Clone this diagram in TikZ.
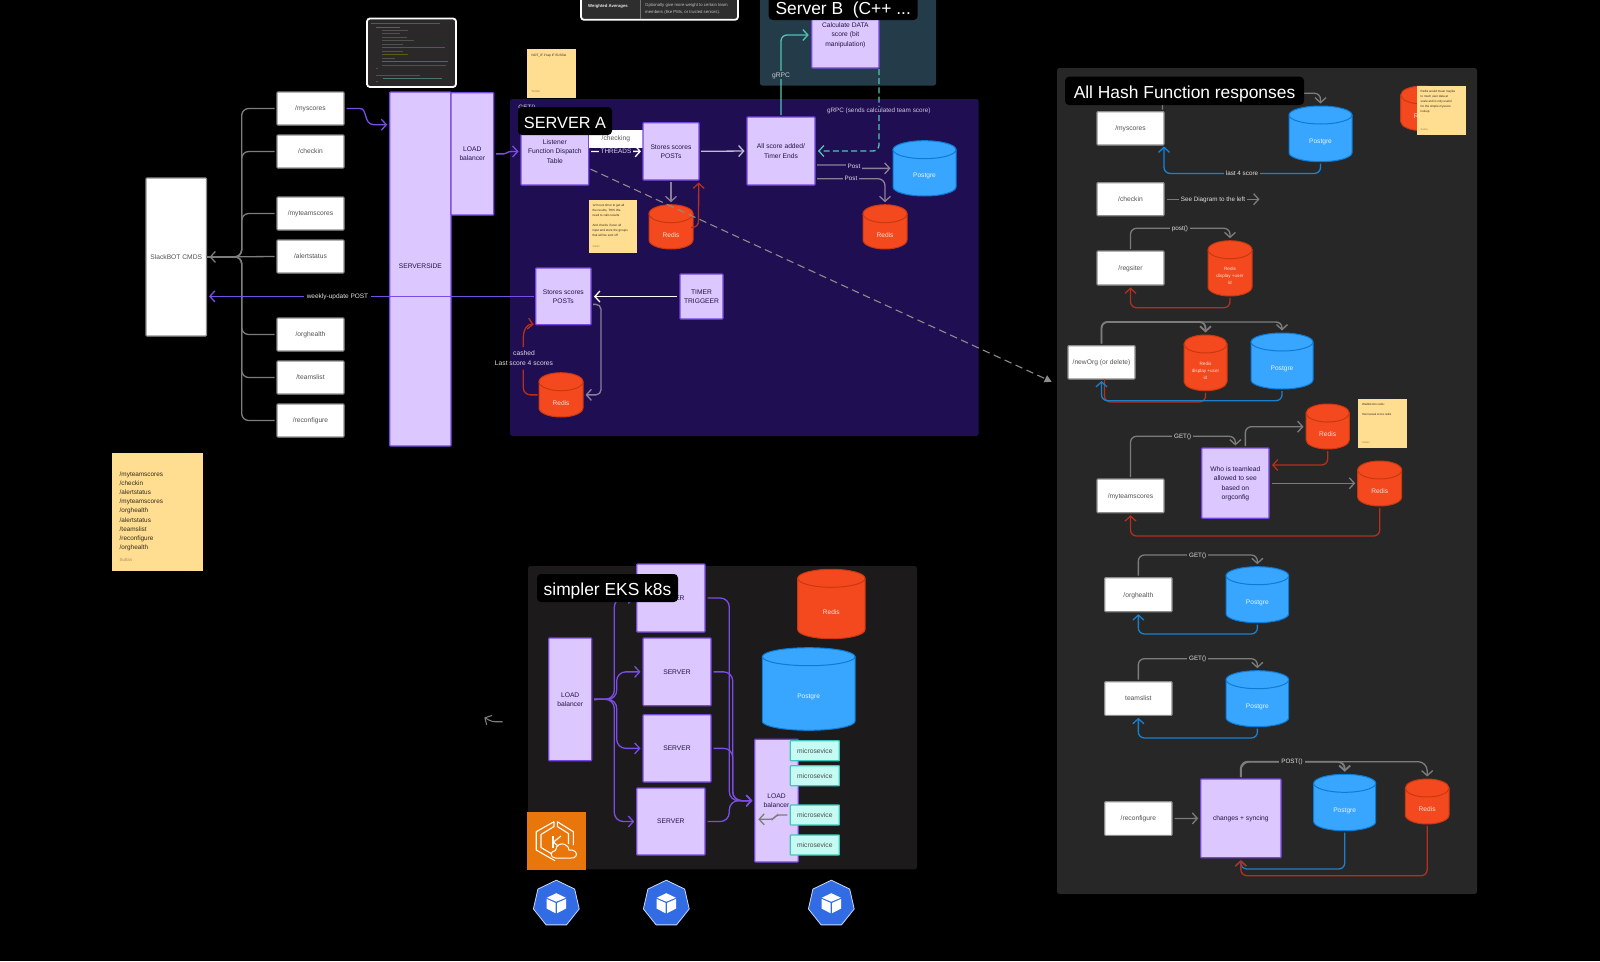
\documentclass[tikz,border=0pt]{standalone}
\usepackage{fontspec}
\setmainfont{Liberation Sans}
\usetikzlibrary{arrows.meta,calc,shapes.geometric}
\definecolor{pfill}{HTML}{DCC8FF}
\definecolor{pedge}{HTML}{7546E0}
\definecolor{panelA}{HTML}{200E52}
\definecolor{panelB}{HTML}{243B49}
\definecolor{panelR}{HTML}{272727}
\definecolor{panelK}{HTML}{1C1A1A}
\definecolor{stick}{HTML}{FFDD91}
\definecolor{pgfillc}{HTML}{38A6FF}
\definecolor{pgedge}{HTML}{0C7BD6}
\definecolor{rdfillc}{HTML}{F4491F}
\definecolor{rdedge}{HTML}{C9380F}
\definecolor{greyl}{HTML}{7C7C7C}
\definecolor{greyp}{HTML}{8A7F98}
\definecolor{bluel}{HTML}{1C7FCB}
\definecolor{redl}{HTML}{B3301E}
\definecolor{purl}{HTML}{7A4DE6}
\definecolor{teall}{HTML}{54C2B6}
\definecolor{mfill}{HTML}{C6FBF3}
\definecolor{medge}{HTML}{3FC8BA}
\definecolor{oran}{HTML}{E8760A}
\definecolor{kube}{HTML}{326CE5}
\newcommand\fsz[2]{\fontsize{#1}{#2}\selectfont}
% \bx{style}{name}{x1}{y1}{x2}{y2}{text}
\newcommand\bx[7]{%
  \pgfmathsetmacro\bxa{(#3+#5)/2}\pgfmathsetmacro\bxb{(#4+#6)/2}%
  \pgfmathsetmacro\bxw{#5-#3}\pgfmathsetmacro\bxh{#6-#4}%
  \node[#1,minimum width=\bxw pt,minimum height=\bxh pt] (#2) at (\bxa,\bxb) {#7};}
% \cyl{name}{x1}{y1}{x2}{y2}{fill}{edge}{textcolor}{text}
\newcommand\cyl[9]{%
  \pgfmathsetmacro\cyA{(#2+#4)/2}\pgfmathsetmacro\cyB{(#3+#5)/2}%
  \pgfmathsetmacro\cyW{#4-#2}\pgfmathsetmacro\cyH{#5-#3}\pgfmathsetmacro\cyR{\cyW/2}%
  \pgfmathsetmacro\cyT{#3+9}\pgfmathsetmacro\cyU{#5-9}\pgfmathsetmacro\cyV{#5-4}%
  \pgfmathsetmacro\cyL{\cyA-\cyR*.55}\pgfmathsetmacro\cyM{\cyA+\cyR*.55}%
  \node[inner sep=0pt,outer sep=0pt,minimum width=\cyW pt,minimum height=\cyH pt] (#1) at (\cyA,\cyB) {};
  \draw[fill=#6,draw=#7,line width=1pt,line join=round] (#2,\cyT) -- (#2,\cyU) .. controls (#2,\cyV) and (\cyL,#5) .. (\cyA,#5) .. controls (\cyM,#5) and (#4,\cyV) .. (#4,\cyU) -- (#4,\cyT) -- cycle;
  \draw[fill=#6,draw=#7,line width=1pt] (\cyA,\cyT) ellipse [x radius=\cyR, y radius=9];
  \node[text=#8,align=center,font=\fsz{6.6}{7},inner sep=0pt] (#1t) at (\cyA,\cyB+8) {#9};}
\newcommand\pgc[6][Postgre]{\cyl{#2}{#3}{#4}{#5}{#6}{pgfillc}{pgedge}{white!88!pgfillc}{#1}}
\newcommand\rdc[6][Redis]{\cyl{#2}{#3}{#4}{#5}{#6}{rdfillc}{rdedge}{white!82!rdfillc}{#1}}
\newcommand\kubeicon[3]{%
  \node[regular polygon,regular polygon sides=7,minimum size=47pt,inner sep=0pt,fill=kube,draw=white!75!kube,line width=.8pt] (#1) at (#2,#3+1) {};
  \fill[white] (#2,#3-9.5) -- (#2+9.5,#3-5) -- (#2,#3-1) -- (#2-9.5,#3-5) -- cycle;
  \fill[white] (#2-9.8,#3-3.8) -- (#2-.8,#3+.2) -- (#2-.8,#3+10.5) -- (#2-9.8,#3+5.8) -- cycle;
  \fill[white] (#2+9.8,#3-3.8) -- (#2+.8,#3+.2) -- (#2+.8,#3+10.5) -- (#2+9.8,#3+5.8) -- cycle;}
\tikzset{
  >={Straight Barb[length=5pt,width=11pt]},
  wbox/.style={fill=white,draw=white!55!black,line width=1.1pt,rounded corners=.8pt,inner sep=0pt,outer sep=0pt,align=center,text=black!68,font=\fsz{6.7}{9.2},text depth=0pt},
  pbox/.style={fill=pfill,draw=pedge,line width=1.2pt,rounded corners=.8pt,inner sep=0pt,outer sep=0pt,align=center,text=black!70!pedge,font=\fsz{6.7}{9.2},text depth=0pt},
  mbox/.style={fill=mfill,draw=medge,line width=1.2pt,rounded corners=.6pt,inner sep=0pt,outer sep=0pt,align=center,text=black!70,font=\fsz{6.7}{9.2},text depth=0pt},
  panel/.style={inner sep=0pt,outer sep=0pt,rounded corners=2.5pt},
  titlebox/.style={fill=black,rounded corners=4pt,text=white,inner sep=0pt,outer sep=0pt,font=\fsz{17.4}{20},text height=15.5pt,text depth=0pt},
  note/.style={fill=stick,inner sep=0pt,outer sep=0pt},
  notetxt/.style={inner sep=0pt,anchor=north west,align=left,text=black!80!stick},
  ln/.style={line width=1.3pt,rounded corners=6pt,shorten <=2pt,shorten >=2.5pt},
  gl/.style={ln,draw=greyl,->},
  gp/.style={ln,draw=greyp,->},
  bl/.style={ln,draw=bluel,->},
  rl/.style={ln,draw=redl,->},
  pl/.style={ln,draw=purl,->},
  lbl/.style={inner sep=2pt,font=\fsz{6.3}{8},text=white!88!black,text depth=0pt},
}
\begin{document}
\begin{tikzpicture}[x=1pt,y=-1pt]
\clip (0,0) rectangle (1600,961);
\useasboundingbox (0,0) rectangle (1600,961);
\fill[black] (0,0) rectangle (1600,961);

% ---- panels
\bx{panel,fill=panelB}{panB}{760}{-8}{936}{85.7}{}
\bx{panel,fill=panelA}{panA}{510}{99}{978.7}{436}{}
\bx{panel,fill=panelR}{panR}{1057}{68}{1477}{894}{}
\bx{panel,fill=panelK}{panK}{528}{566}{917}{869.3}{}

% ---- table screenshot
\bx{fill=black!82,draw=white,line width=1.8pt,rounded corners=3pt}{tbl}{581}{-12}{738}{19.8}{}
\draw[black!55,line width=.4pt] (640,0) -- (640,19);
\node[inner sep=0pt,anchor=west,font=\bfseries\fsz{4.3}{5},text=white!90!black] (tba) at (588,6.4) {Weighted Averages};
\node[inner sep=0pt,anchor=north west,align=left,font=\fsz{4.3}{7},text=white!75!black] (tbb) at (645,3.4) {Optionally give more weight to certain team\\members (like PMs, or trusted seniors).};

% ---- code screenshot
\bx{fill=black!85!cyan!30!black,draw=white,line width=1.8pt,rounded corners=3pt}{code}{367}{18.5}{456}{87}{}
\begin{scope}[opacity=.55]
\foreach \yy/\xa/\xb/\cc in {
 23.5/371/440/black!50,27/376/400/black!45,30/382/408/white!45!black,33.5/382/400/white!45!black,
 37/382/407/white!45!black,40.5/382/414/white!45!black,44/382/403/white!45!black,47.5/382/445/teal!80!white,
 51/382/403/white!45!black,54.5/382/408/olive,58/382/395/white!45!black,61.5/382/448/teal!70!white,
 65/382/446/white!45!black,68/376/378/white!45!black,75/376/420/white!45!black,78.5/383/442/teal!60!white,81.5/376/378/white!45!black}
 {\draw[\cc,line width=.7pt] (\xa,\yy) -- (\xb,\yy);}
\end{scope}

% ---- sticky notes (behind boxes where needed)
\bx{note}{n1}{527}{49}{576}{98}{}
\node[notetxt,font=\fsz{3.2}{5}] (n1a) at (531.5,53.5) {NOT\_IF if tap IF ELSEat};
\node[notetxt,font=\fsz{3}{4},text=black!40!stick] (n1b) at (531.5,90.5) {Sultan};

% ---- left column
\bx{wbox}{slack}{146}{178}{206.5}{336}{SlackBOT CMDS}
\bx{wbox}{c1}{277}{92}{344}{125}{/myscores}
\bx{wbox}{c2}{277}{135}{344}{168}{/checkin}
\bx{wbox}{c3}{277}{197}{344}{230}{/myteamscores}
\bx{wbox}{c4}{277}{240}{344}{273}{/alertstatus}
\bx{wbox}{c5}{277}{318}{344}{351}{/orghealth}
\bx{wbox}{c6}{277}{361}{344}{394}{/teamslist}
\bx{wbox}{c7}{277}{404}{344}{437}{/reconfigure}
\bx{pbox}{side}{389.7}{92}{451}{446}{\raisebox{6pt}{SERVERSIDE}}
\bx{pbox}{lb}{451}{92.7}{493.7}{215}{LOAD\\balancer}
\coordinate (trunk) at (241.7,256.8);
\foreach \n in {c1,c2,c3,c5,c6,c7}{\draw[draw=greyl,line width=1.3pt,rounded corners=7pt,shorten <=2.5pt] (\n.west) -| (trunk) -- (slack.east);}
\draw[gl,shorten <=2.5pt,shorten >=3pt] (c4.west) -- (slack.east);

% big note
\bx{note}{n2}{112.3}{452.7}{203.3}{571}{}
\node[notetxt,font=\fsz{6.4}{9.15}] (n2a) at (119.5,471.5) {/myteamscores\\/checkin\\/alertstatus\\/myteamscores\\/orghealth\\/alertstatus\\/teamslist\\/reconfigure\\/orghealth};
\node[notetxt,font=\fsz{4.4}{5},text=black!35!stick] (n2b) at (119.5,558) {Sultan};

% ---- server A
\bx{pbox}{list}{521}{118}{588.7}{185}{Listener\\Function Dispatch\\Table}
\bx{fill=white,inner sep=0pt,outer sep=0pt,text=black!65,font=\fsz{6.7}{9}}{chk}{588.7}{130}{643}{147.7}{/checking}
\bx{pbox}{st1}{643}{122.7}{699}{180}{Stores scores\\POSTs}
\bx{pbox}{all}{747}{117}{815}{185}{All score added/\\Timer Ends}
\pgc{pg1}{893}{140.7}{956}{196}
\rdc{rd1}{649}{204.7}{693}{249}
\rdc{rd2}{863}{204.7}{907}{249}
\bx{note}{n3}{588.7}{200}{637}{252.7}{}
\node[notetxt,font=\fsz{3.05}{5}] (n3a) at (592.3,204) {12 hours timer to get all\\the results, THIS We\\need to calls results\\[5pt]And checks if user all\\input and store the groups\\that will be sent off};
\node[notetxt,font=\fsz{2.6}{3},text=black!40!stick] (n3b) at (592.3,245.5) {Sultan};
\bx{pbox}{st2}{535.7}{268}{591}{324.7}{Stores scores\\POSTs}
\bx{pbox}{tmr}{680}{274}{723}{319}{TIMER\\TRIGGEER}
\rdc{rd3}{539}{372.7}{583}{417}

% ---- server B
\bx{pbox}{calc}{811.7}{1}{879}{68}{Calculate DATA\\score (bit\\manipulation)}

% ---- server A connectors
\draw[draw=purl,line width=1.3pt,->,shorten >=2.5pt] (c1.east) ++(2.7,0) -- ++(13,0) .. controls (368,108.3) and (363,124.7) .. (374,124.7) -- (side.west |- 0,124.7);
\draw[draw=purl,line width=1.3pt,->,shorten >=2.5pt] (lb.east) ++(2.3,0) -- ++(8,0) .. controls (508,154) and (506,151.5) .. (512,151.5) -- (list.west);
\draw[ln,draw=white,->,shorten <=2.5pt,shorten >=2pt] (list.east) -- (st1.west);
\node[lbl,fill=panelA,text=white!85!panelA,inner sep=1.5pt,font=\fsz{6.4}{8}] (thr) at (616,151.4) {THREADS};
\draw[gp,draw=white!72!panelA] (st1.east) -- (all.west);
\draw[gp] (st1.south) -- (rd1.north);
\draw[rl] (rd1.east) ++(0,.5) -- ++(5.5,0) -- (st1.south -| 698.7,0);
\draw[ln,draw=teall,->,shorten >=3pt] (all.north) |- (calc.west |- 0,35);
\node[lbl,fill=panelB,text=white!75!panelB,font=\fsz{6.7}{8}] (grpc) at (781,75) {gRPC};
\draw[ln,draw=teall,dash pattern=on 6pt off 3.2pt,->,shorten <=1pt,shorten >=3pt] (calc.south east) |- (all.east);
\node[lbl,fill=panelA,text=white!78!panelA,inner sep=1.5pt,font=\fsz{6.35}{8}] (grpc2) at (878.7,110.3) {gRPC (sends calculated team score)};
\draw[gp,rounded corners=2pt,shorten >=2.5pt] ([yshift=-14pt]all.east) -- ++(35,0) -- ++(3,3.4) -- (pg1.west);
\node[lbl,fill=panelA] (p1) at (854,166.7) {Post};
\draw[gp,rounded corners=7pt] ([yshift=-27.7pt]all.east) -| (rd2.north);
\node[lbl,fill=panelA] (p2) at (851,178.7) {Post};
\draw[ln,draw=white,->,shorten <=3pt,shorten >=3pt] (tmr.west) -- (st2.east |- tmr.west);
\draw[gp,rounded corners=5pt,shorten <=2pt,shorten >=2.5pt] ([yshift=-8pt]st2.east) -- ++(10,0) |- (rd3.east);
\coordinate (cashlo) at (523.3,369.5);
\coordinate (cashhi) at (523.3,347);
\draw[ln,draw=redl,rounded corners=7pt,shorten <=1.5pt,shorten >=0pt] (rd3.west) -| (cashlo);
\draw[draw=redl,line width=1.3pt,->,shorten >=2pt] (cashhi) -- (523.3,338) .. controls (523.3,330) and (527,323.5) .. (st2.south west);
\node[lbl,inner sep=1pt,align=center,font=\fsz{6.7}{9.3},text=white!85!panelA] (cash) at (524,358) {cashed\\Last score 4 scores};
\draw[pl] (st2.west) -- (slack.east |- st2.west);
\node[lbl,fill=black,inner sep=2.5pt,font=\fsz{6.5}{8}] (wk) at (337.5,296.5) {weekly-update POST};

% ---- hash panel boxes
\bx{wbox}{hm}{1097}{111.7}{1164}{145}{/myscores}
\pgc{hp1}{1289}{106}{1352}{161.7}
\bx{wbox}{hc}{1097}{182.7}{1164}{215.7}{/checkin}
\coordinate (seeend) at (1260,199.2);
\bx{wbox}{hr}{1097}{251}{1164}{285}{/regsiter}
\newcommand\rdf{\fsz{4.6}{6.8}}
\newcommand\rdu{\rdf Redis\\\rdf display +user\\\rdf id}
\rdc[\rdu]{hd1}{1208}{240.7}{1252}{296}
\bx{wbox}{hn}{1068}{345.7}{1135}{379}{/newOrg (or delete)}
\rdc[\rdu]{hd2}{1184}{335}{1227}{390.7}
\pgc{hp2}{1251}{333}{1313}{389}
\rdc{hd3}{1306}{404}{1349.3}{449}
\bx{note}{n4}{1358}{399}{1407}{448}{}
\node[notetxt,font=\fsz{2.9}{5}] (n4a) at (1362,403.5) {WaitlistJoin redis:\\[5pt]then tweak score redis};
\node[notetxt,font=\fsz{2.6}{3},text=black!40!stick] (n4b) at (1362,441) {Sultan};
\bx{pbox}{who}{1201.7}{448}{1269}{518.3}{Who is teamlead\\allowed to see\\based on\\orgconfig}
\bx{wbox}{ht}{1097}{479}{1164}{512.7}{/myteamscores}
\rdc{hd4}{1357.7}{461}{1401.7}{506}
\bx{wbox}{ho}{1104.7}{577.7}{1172}{611.7}{/orghealth}
\pgc{hp3}{1226}{566.7}{1288.7}{622.7}
\bx{wbox}{hl}{1104.7}{681.7}{1172}{715.3}{teamslist}
\pgc{hp4}{1226}{670.7}{1288.7}{726.7}
\bx{wbox}{hf}{1104.7}{801.7}{1172}{835.3}{/reconfigure}
\bx{pbox}{chg}{1200.7}{779}{1281}{857.7}{changes + syncing}
\pgc{hp5}{1313.7}{774.3}{1375.7}{830.7}
\rdc{hd5}{1405.3}{779}{1449}{824}

% ---- hash connectors
\draw[gl] ([xshift=32pt]hm.north) -- ++(0,-18.4) -| (hp1.north);
\draw[bl,draw=blue!20!bluel!80!cyan,shorten >=1.5pt] (hp1.south) -- ++(0,11.7) -| (hm.south east);
\node[lbl,fill=panelR] (l4) at (1242,173.3) {last 4 score};
\draw[gl,shorten <=3pt,shorten >=.5pt] (hc.east) -- (seeend);
\node[lbl,fill=panelR] (see) at (1213,199.2) {See Diagram to the left};
\draw[gl] (hr.north) -- ++(0,-22.7) -| (hd1.north);
\node[lbl,fill=panelR] (pst) at (1180,228.3) {post()};
\draw[rl] (hd1.south) -- ++(0,11.7) -| (hr.south);
\draw[gl,line width=1.8pt] (hn.north) -- ++(0,-23.7) -| (hd2.north);
\draw[gl,line width=1.4pt] (hn.north) -- ++(0,-23.7) -| (hp2.north);
\draw[ln,draw=redl,shorten >=0pt] (hd2.south) -- ++(0,11.3) -| ([xshift=3pt]hn.south);
\draw[bl,shorten >=2pt] (hp2.south) -- ++(0,11.7) -| (hn.south);
\draw[gl] (ht.north) -- ++(0,-42.7) -| (who.north);
\node[lbl,fill=panelR] (get1) at (1182.7,436.3) {GET()};
\draw[gl,shorten >=2.5pt] ([xshift=10pt]who.north) -- ++(0,-21.3) -- (hd3.west |- 0,426.7);
\draw[rl,shorten >=3pt] (hd3.south) |- ([yshift=18.15pt]who.east);
\draw[gl,shorten <=2.5pt,shorten >=2.5pt] (who.east |- 0,483.3) -- (hd4.west |- 0,483.3);
\draw[rl] (hd4.south) -- ++(0,30) -| (ht.south);
\draw[gl] (ho.north) -- ++(0,-22.7) -| (hp3.north);
\node[lbl,fill=panelR] (get2) at (1197.7,555) {GET()};
\draw[bl] (hp3.south) -- ++(0,11.3) -| (ho.south);
\draw[gl] (hl.north) -- ++(0,-23) -| (hp4.north);
\node[lbl,fill=panelR] (get3) at (1197.7,658.7) {GET()};
\draw[bl] (hp4.south) -- ++(0,11.3) -| (hl.south);
\draw[gl,shorten <=2.5pt,shorten >=2.5pt] (hf.east) -- (chg.west);
\draw[gl,line width=1.9pt,rounded corners=7pt] (chg.north) -- ++(0,-17.3) -| (hp5.north);
\draw[gl,line width=1.3pt,rounded corners=9pt] (chg.north) -- ++(0,-17.3) -| (hd5.north);
\node[lbl,fill=panelR] (post) at (1292,761.7) {POST()};
\draw[bl] (hp5.south) -- ++(0,38.3) -| (chg.south);
\draw[rl] (hd5.south) -- ++(0,51.7) -| (chg.south);

% ---- dashed
\coordinate (dashend) at (1051.7,381.7);
\draw[draw=white!55!black,line width=1.1pt,dash pattern=on 7.5pt off 4.5pt,-{Triangle[length=7pt,width=7.5pt,fill=white!55!black]},shorten <=2pt] ([yshift=-16.8pt]list.east) -- (dashend);

% ---- right sticky with redis
\rdc{hd0}{1400.7}{86}{1444}{130.7}
\bx{note}{n5}{1416.7}{86}{1465.7}{135}{}
\node[notetxt,font=\fsz{3}{5}] (n5a) at (1420.5,90) {Redis would mean maybe\\to much user data at\\scale and is only useful\\for the simple myscore\\lookup};
\node[notetxt,font=\fsz{2.6}{3},text=black!40!stick] (n5b) at (1420.5,128) {Sultan};

% ---- EKS
\bx{pbox}{k1}{636.7}{564}{705}{632}{SERVER}
\bx{pbox}{k2}{643}{638}{711}{705.7}{SERVER}
\bx{pbox}{k3}{643}{714.7}{711}{782}{SERVER}
\bx{pbox}{k4}{636.7}{788}{705}{855}{SERVER}
\bx{pbox}{kl}{548.7}{638}{591.7}{760.7}{LOAD\\balancer}
\bx{pbox}{kb}{754.7}{739.3}{798.3}{862}{LOAD\\balancer}
\rdc{kr}{797.7}{569.3}{865}{638.7}
\pgc{kp}{762.3}{647.7}{855}{730.3}
\bx{mbox}{m1}{790.3}{740.7}{839.3}{760.7}{microsevice}
\bx{mbox}{m2}{790.3}{765.7}{839.3}{785.7}{microsevice}
\bx{mbox}{m3}{790.3}{805}{839.3}{825}{microsevice}
\bx{mbox}{m4}{790.3}{835}{839.3}{855}{microsevice}
\coordinate (fa) at (616.7,699.3);
\coordinate (fb) at (614.3,699.3);
\tikzset{kline/.style={draw=purl,line width=1.3pt,rounded corners=9pt,->,shorten <=2.5pt,shorten >=2.5pt}}
\draw[kline] (kl.east) -- (fb) |- (k1.west);
\draw[kline] (kl.east) -- (fa) |- (k2.west);
\draw[kline] (kl.east) -- (fa) |- (k3.west);
\draw[kline] (kl.east) -- (fb) |- (k4.west);
\coordinate (ma) at (729.3,800.7);
\coordinate (mb) at (732.7,800.7);
\draw[kline] (k1.east) -| (ma) -- (kb.west);
\draw[kline] (k2.east) -| (mb) -- (kb.west);
\draw[kline] (k3.east) -| (mb) -- (kb.west);
\draw[kline] (k4.east) -| (ma) -- (kb.west);
\coordinate (ke) at (758.3,819.3);
\draw[draw=greyl,line width=1.3pt,rounded corners=3pt,->,shorten <=3pt] (m3.west) -- ++(-14,0) -- ++(-3,4.3) -- (ke);
\coordinate (sa) at (502.7,721.7);
\coordinate (sb) at (484.3,717.5);
\draw[draw=greyl,line width=1.1pt,rounded corners=3pt,->] (sa) -- (492,721.7) -- (sb);

% EKS icon
\bx{fill=oran,inner sep=0pt,outer sep=0pt}{eks}{527.3}{812.3}{585.7}{870.3}{}
\begin{scope}[draw=white,line width=1.1pt,line join=round]
\draw (554,821.7) -- (536.2,831.7) -- (536.2,850) -- (555,860.7);
\draw (554,821.7) -- (554,826.5) -- (541,834.5) -- (541,847.5) -- (552,854);
\draw (557.3,821.7) -- (573.3,831.7) -- (573.3,845);
\draw (557.3,821.7) -- (557.3,826.5) -- (568.5,833.5) -- (568.5,844);
\draw (553,836) -- (553,848);
\draw (561,836) -- (553.5,842) -- (559,847);
\end{scope}
\draw[white,line width=1pt,fill=oran] (555.5,858) .. controls (549.5,858) and (550,850.5) .. (555.5,850.5) .. controls (556,845) and (561,842.5) .. (565,844.5) .. controls (568,846) and (569,848) .. (569,850) .. controls (574,849) and (578,853) .. (576,856) .. controls (575,858) and (573,858) .. (571,858) -- cycle;
\kubeicon{hxa}{556.3}{902.7}
\kubeicon{hxb}{666.3}{902.7}
\kubeicon{hxc}{831.3}{902.7}

% ---- title labels
\node[inner sep=0pt,font=\fsz{6.3}{8},text=white!85!panelA] (getA) at (527,108) {GET()};
\bx{titlebox,font=\fsz{16.3}{20},text height=14.5pt}{tA}{518}{107}{612}{135}{SERVER A}
\bx{titlebox}{tB}{768.7}{-6.6}{917.7}{20}{Server B\ \ (C++ ...}
\bx{titlebox}{tH}{1065}{76.7}{1304}{105}{All Hash Function responses}
\bx{titlebox}{tK}{537}{574}{678}{602}{simpler EKS k8s}
\end{tikzpicture}
\end{document}
